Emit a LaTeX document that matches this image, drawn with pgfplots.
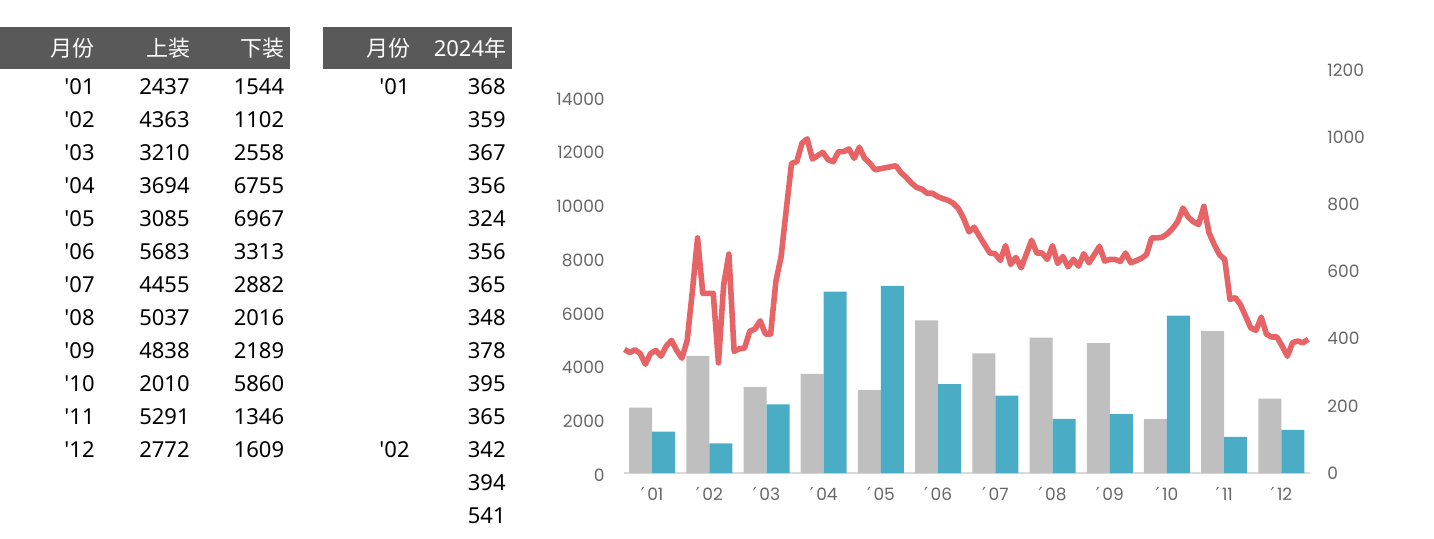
\documentclass[border=0pt]{standalone}
\usepackage{pgfplots}
\usepackage{pgfplotstable}
\pgfplotsset{compat=1.18}
\usepackage{fontspec}
\setmainfont{Noto Sans}[Ligatures=TeXOff]
\newfontfamily\cjk{Noto Sans CJK SC}
\newfontfamily\axfont{Poppins}
\newfontfamily\symfont{DejaVu Sans}

\definecolor{hdr}{HTML}{595959}
\definecolor{barA}{HTML}{BFBFBF}
\definecolor{barB}{HTML}{4BACC6}
\definecolor{lineC}{HTML}{E66465}
\definecolor{tickc}{HTML}{666666}
\definecolor{basec}{HTML}{D9D9D9}

\newcommand{\mlab}[1]{{\symfont\fontsize{9}{9}\selectfont ′}\kern1.2pt#1}

% monthly sales (上装 / 下装)
\pgfplotstableread{
m a b
0.5 2437 1544
1.5 4363 1102
2.5 3210 2558
3.5 3694 6755
4.5 3085 6967
5.5 5683 3313
6.5 4455 2882
7.5 5037 2016
8.5 4838 2189
9.5 2010 5860
10.5 5291 1346
11.5 2772 1609
}\bars

% 2024 series, 11 points per month
\pgfplotstableread{
i v
0 368
1 359
2 367
3 356
4 324
5 356
6 365
7 348
8 378
9 395
10 365
11 342
12 394
13 541
14 700
15 535
16 535
17 535
18 328
19 560
20 652
21 362
22 370
23 372
24 422
25 429
26 453
27 414
28 414
29 570
30 644
31 785
32 922
33 927
34 982
35 995
36 935
37 945
38 955
39 933
40 927
41 957
42 957
43 965
44 937
45 970
46 937
47 923
48 903
49 906
50 909
51 912
52 915
53 894
54 880
55 863
56 850
57 845
58 833
59 833
60 823
61 817
62 812
63 803
64 787
65 757
66 718
67 732
68 705
69 680
70 655
71 653
72 633
73 677
74 621
75 642
76 611
77 652
78 693
79 655
80 655
81 636
82 677
83 624
84 645
85 614
86 636
87 616
88 653
89 626
90 650
91 675
92 631
93 636
94 636
95 630
96 655
97 626
98 632
99 639
100 650
101 700
102 700
103 702
104 712
105 728
106 749
107 789
108 762
109 748
110 740
111 794
112 715
113 680
114 650
115 636
116 517
117 522
118 502
119 467
120 432
121 425
122 464
123 413
124 405
125 405
126 378
127 348
128 388
129 393
130 388
131 398
}\wk

\begin{document}
\begin{tikzpicture}
\begin{scope}[x=0.5pt,y=-0.5pt]
\path[use as bounding box] (0,0) rectangle (1434,538);
\coordinate (O) at (623.5,473);

% tables
\fill[hdr] (0,27) rectangle (290,69);
\fill[hdr] (323,27) rectangle (512,69);
\begin{scope}[every node/.style={anchor=base east,inner sep=0pt,font=\fontsize{11}{13}\selectfont}]
\node[text=white] at (95,56) {\cjk 月份};
\node[text=white] at (190.5,56) {\cjk 上装};
\node[text=white] at (285,56) {\cjk 下装};
\node[text=white] at (410.5,56) {\cjk 月份};
\node[text=white] at (506.5,56) {2024{\cjk 年}};
\foreach \m/\a/\b [count=\r from 0] in {'01/2437/1544,'02/4363/1102,'03/3210/2558,'04/3694/6755,'05/3085/6967,'06/5683/3313,'07/4455/2882,'08/5037/2016,'09/4838/2189,'10/2010/5860,'11/5291/1346,'12/2772/1609}{
  \node at (95,{94+33*\r}) {\m};
  \node at (190,{94+33*\r}) {\a};
  \node at (284.5,{94+33*\r}) {\b};
}
\node at (410,94) {'01};
\node at (410,457) {'02};
\foreach \v [count=\r from 0] in {368,359,367,356,324,356,365,348,378,395,365,342,394,541}{
  \node at (506,{94+33*\r}) {\v};
}
\end{scope}
\end{scope}

% bars on the left axis
\begin{axis}[
    at={(O)}, anchor=south west,
    scale only axis, width=343.25pt, height=201.5pt,
    xmin=0, xmax=12, ymin=0, ymax=15000,
    ybar=0pt, bar width=11.5pt,
    axis x line*=bottom, axis y line*=left,
    x axis line style={basec, line width=1.3pt},
    y axis line style={draw=none},
    major tick length=0pt,
    xtick={0.5,1.5,...,11.5},
    xticklabels={\mlab{01},\mlab{02},\mlab{03},\mlab{04},\mlab{05},\mlab{06},\mlab{07},\mlab{08},\mlab{09},\mlab{10},\mlab{11},\mlab{12}},
    ytick={0,2000,...,14000},
    scaled y ticks=false,
    /pgf/number format/1000 sep={},
    /pgf/number format/assume math mode=true,
    tick label style={font=\axfont\fontsize{8.5}{9}\selectfont, text=tickc, inner sep=0pt},
    yticklabel style={anchor=east, xshift=-9.25pt, yshift=-1pt},
    xticklabel style={anchor=center, yshift=-10.5pt},
]
\addplot[fill=barA, draw=none] table[x=m,y=a]{\bars};
\addplot[fill=barB, draw=none] table[x=m,y=b]{\bars};
\end{axis}

% line on the right axis
\begin{axis}[
    at={(O)}, anchor=south west,
    scale only axis, width=343.25pt, height=201.5pt,
    xmin=-0.19, xmax=131.34, ymin=0, ymax=1200,
    hide x axis,
    axis y line*=right,
    y axis line style={draw=none},
    major tick length=0pt,
    ytick={0,200,...,1200},
    /pgf/number format/1000 sep={},
    /pgf/number format/assume math mode=true,
    yticklabel style={font=\axfont\fontsize{8.5}{9}\selectfont, text=tickc, inner sep=0pt, anchor=west, xshift=8.5pt},
    clip=false,
]
\addplot[lineC, line width=2.8pt, line join=round, mark=none] table[x=i,y=v]{\wk};
\end{axis}
\end{tikzpicture}
\end{document}
